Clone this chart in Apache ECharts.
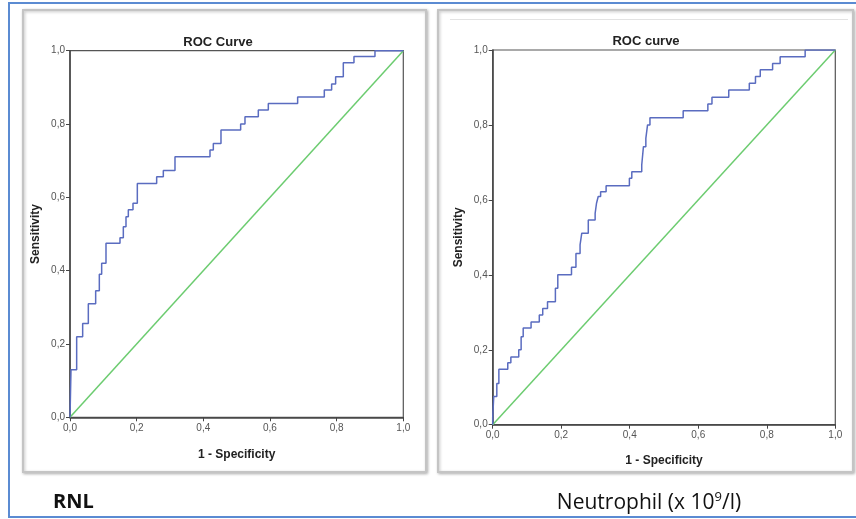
<!DOCTYPE html>
<html>
<head>
<meta charset="utf-8">
<script src="https://cdn.jsdelivr.net/npm/echarts@6/dist/echarts.min.js"></script>
<style>
  html, body { margin: 0; padding: 0; background: #fff; }
  #main { width: 856px; height: 519px; }
</style>
</head>
<body>
<div id="main"></div>
<script>
// RNL ROC curve: x of each riser and sensitivity reached at its top
var rnlFpr = [0, 0.003, 0.020, 0.038, 0.055, 0.077, 0.088, 0.095, 0.108, 0.150, 0.160, 0.168, 0.175, 0.189, 0.202,
  0.260, 0.280, 0.315, 0.420, 0.430, 0.453, 0.512, 0.525, 0.565, 0.595, 0.683, 0.763, 0.785, 0.797, 0.820,
  0.852, 0.915, 1.0];
var rnlTpr = [0, 0.13, 0.22, 0.256, 0.31, 0.345, 0.39, 0.42, 0.475, 0.49, 0.52, 0.547, 0.566, 0.584, 0.638,
  0.656, 0.673, 0.711, 0.729, 0.747, 0.784, 0.80, 0.82, 0.838, 0.856, 0.874, 0.893, 0.909, 0.929, 0.967,
  0.984, 1.0, 1.0];

// Neutrophil ROC curve
var neuFpr = [0, 0, 0.003, 0.012, 0.018, 0.044, 0.053, 0.076, 0.083, 0.089, 0.112, 0.136, 0.146, 0.160, 0.183,
  0.190, 0.230, 0.243, 0.255, 0.260, 0.279, 0.299, 0.303, 0.308, 0.315, 0.331, 0.399, 0.406, 0.435, 0.440,
  0.447, 0.452, 0.459, 0.556, 0.628, 0.640, 0.689, 0.749, 0.767, 0.781, 0.817, 0.839, 0.912, 1.0];
var neuTpr = [0, 0.02, 0.075, 0.11, 0.148, 0.165, 0.181, 0.20, 0.235, 0.258, 0.274, 0.293, 0.31, 0.328, 0.364,
  0.40, 0.42, 0.457, 0.48, 0.511, 0.546, 0.564, 0.591, 0.609, 0.622, 0.638, 0.658, 0.675, 0.693, 0.742,
  0.764, 0.80, 0.819, 0.838, 0.856, 0.874, 0.893, 0.911, 0.929, 0.947, 0.964, 0.982, 1.0, 1.0];

var refLine = [0, 1];
var axisTicks = [0, 0.2, 0.4, 0.6, 0.8, 1.0];

function pairs(xs, ys) {
  var out = [];
  for (var i = 0; i < xs.length; i++) out.push([xs[i], ys[i]]);
  return out;
}

function commaFmt(v) {
  return v.toFixed(1).replace('.', ',');
}

function makeAxis(idx, name, gap, isX) {
  return {
    type: 'value',
    gridIndex: idx,
    min: axisTicks[0],
    max: axisTicks[axisTicks.length - 1],
    interval: 0.2,
    name: name,
    nameLocation: 'middle',
    nameGap: gap,
    nameTextStyle: { fontFamily: 'Liberation Sans', fontWeight: 'bold', fontSize: 12, color: '#222' },
    axisLine: { show: true, lineStyle: { color: '#444', width: 1.5 } },
    axisTick: { show: true, length: 4, lineStyle: { color: '#444' } },
    axisLabel: {
      formatter: commaFmt, fontFamily: 'Liberation Sans', fontSize: 10, color: '#555',
      margin: isX ? 6 : 5
    },
    splitLine: { show: false }
  };
}

var curveColor = '#5a6cc0';
var diagColor = '#6ccc70';

var chart = echarts.init(document.getElementById('main'));
var option = {
  backgroundColor: '#fff',
  animation: false,
  title: [
    { text: 'ROC Curve', left: 213, top: 31, textAlign: 'center',
      textStyle: { fontFamily: 'Liberation Sans', fontWeight: 'bold', fontSize: 13, color: '#222' } },
    { text: 'ROC curve', left: 641, top: 30, textAlign: 'center',
      textStyle: { fontFamily: 'Liberation Sans', fontWeight: 'bold', fontSize: 13, color: '#222' } },
    { text: 'RNL', left: 48, top: 487,
      textStyle: { fontFamily: 'Open Sans', fontWeight: 'bold', fontSize: 20, color: '#111' } },
    { text: 'Neutrophil (x 10{sup|9}/l)', left: 644, top: 486, textAlign: 'center',
      textStyle: { fontFamily: 'Open Sans', fontWeight: 'normal', fontSize: 21, color: '#111',
        rich: { sup: { fontFamily: 'Open Sans', fontSize: 13, verticalAlign: 'top', padding: [0, 0, 12, 0], color: '#111' } } } }
  ],
  graphic: [
    { type: 'rect', shape: { x: 9, y: 3, width: 860, height: 514 }, silent: true,
      style: { fill: 'none', stroke: '#5b8bd2', lineWidth: 2 } },
    { type: 'rect', shape: { x: 23, y: 10, width: 403, height: 462 }, silent: true, z: -1,
      style: { fill: '#fff', stroke: '#c4c4c4', lineWidth: 2, shadowBlur: 3, shadowOffsetX: 1, shadowOffsetY: 1, shadowColor: 'rgba(0,0,0,0.25)' } },
    { type: 'rect', shape: { x: 438, y: 10, width: 415, height: 462 }, silent: true, z: -1,
      style: { fill: '#fff', stroke: '#c4c4c4', lineWidth: 2, shadowBlur: 3, shadowOffsetX: 1, shadowOffsetY: 1, shadowColor: 'rgba(0,0,0,0.25)' } },
    { type: 'line', shape: { x1: 450, y1: 19.5, x2: 848, y2: 19.5 }, silent: true,
      style: { stroke: '#e2e2e2', lineWidth: 1 } }
  ],
  grid: [
    { left: 70, top: 50.7, width: 333.3, height: 366.6, show: true, borderColor: '#555', borderWidth: 1.2, backgroundColor: 'transparent' },
    { left: 492.7, top: 50, width: 342.6, height: 374.7, show: true, borderColor: '#555', borderWidth: 1.2, backgroundColor: 'transparent' }
  ],
  xAxis: [
    makeAxis(0, '1 - Specificity', 31, true),
    makeAxis(1, '1 - Specificity', 30, true)
  ],
  yAxis: [
    makeAxis(0, 'Sensitivity', 28, false),
    makeAxis(1, 'Sensitivity', 28, false)
  ],
  series: [
    { type: 'line', xAxisIndex: 0, yAxisIndex: 0, data: pairs(refLine, refLine), symbol: 'none',
      lineStyle: { color: diagColor, width: 1.5 } },
    { type: 'line', xAxisIndex: 0, yAxisIndex: 0, data: pairs(rnlFpr, rnlTpr), step: 'end', symbol: 'none',
      lineStyle: { color: curveColor, width: 1.5 } },
    { type: 'line', xAxisIndex: 1, yAxisIndex: 1, data: pairs(refLine, refLine), symbol: 'none',
      lineStyle: { color: diagColor, width: 1.5 } },
    { type: 'line', xAxisIndex: 1, yAxisIndex: 1, data: pairs(neuFpr, neuTpr), step: 'end', symbol: 'none',
      lineStyle: { color: curveColor, width: 1.5 } }
  ]
};
chart.setOption(option);
</script>
</body>
</html>
